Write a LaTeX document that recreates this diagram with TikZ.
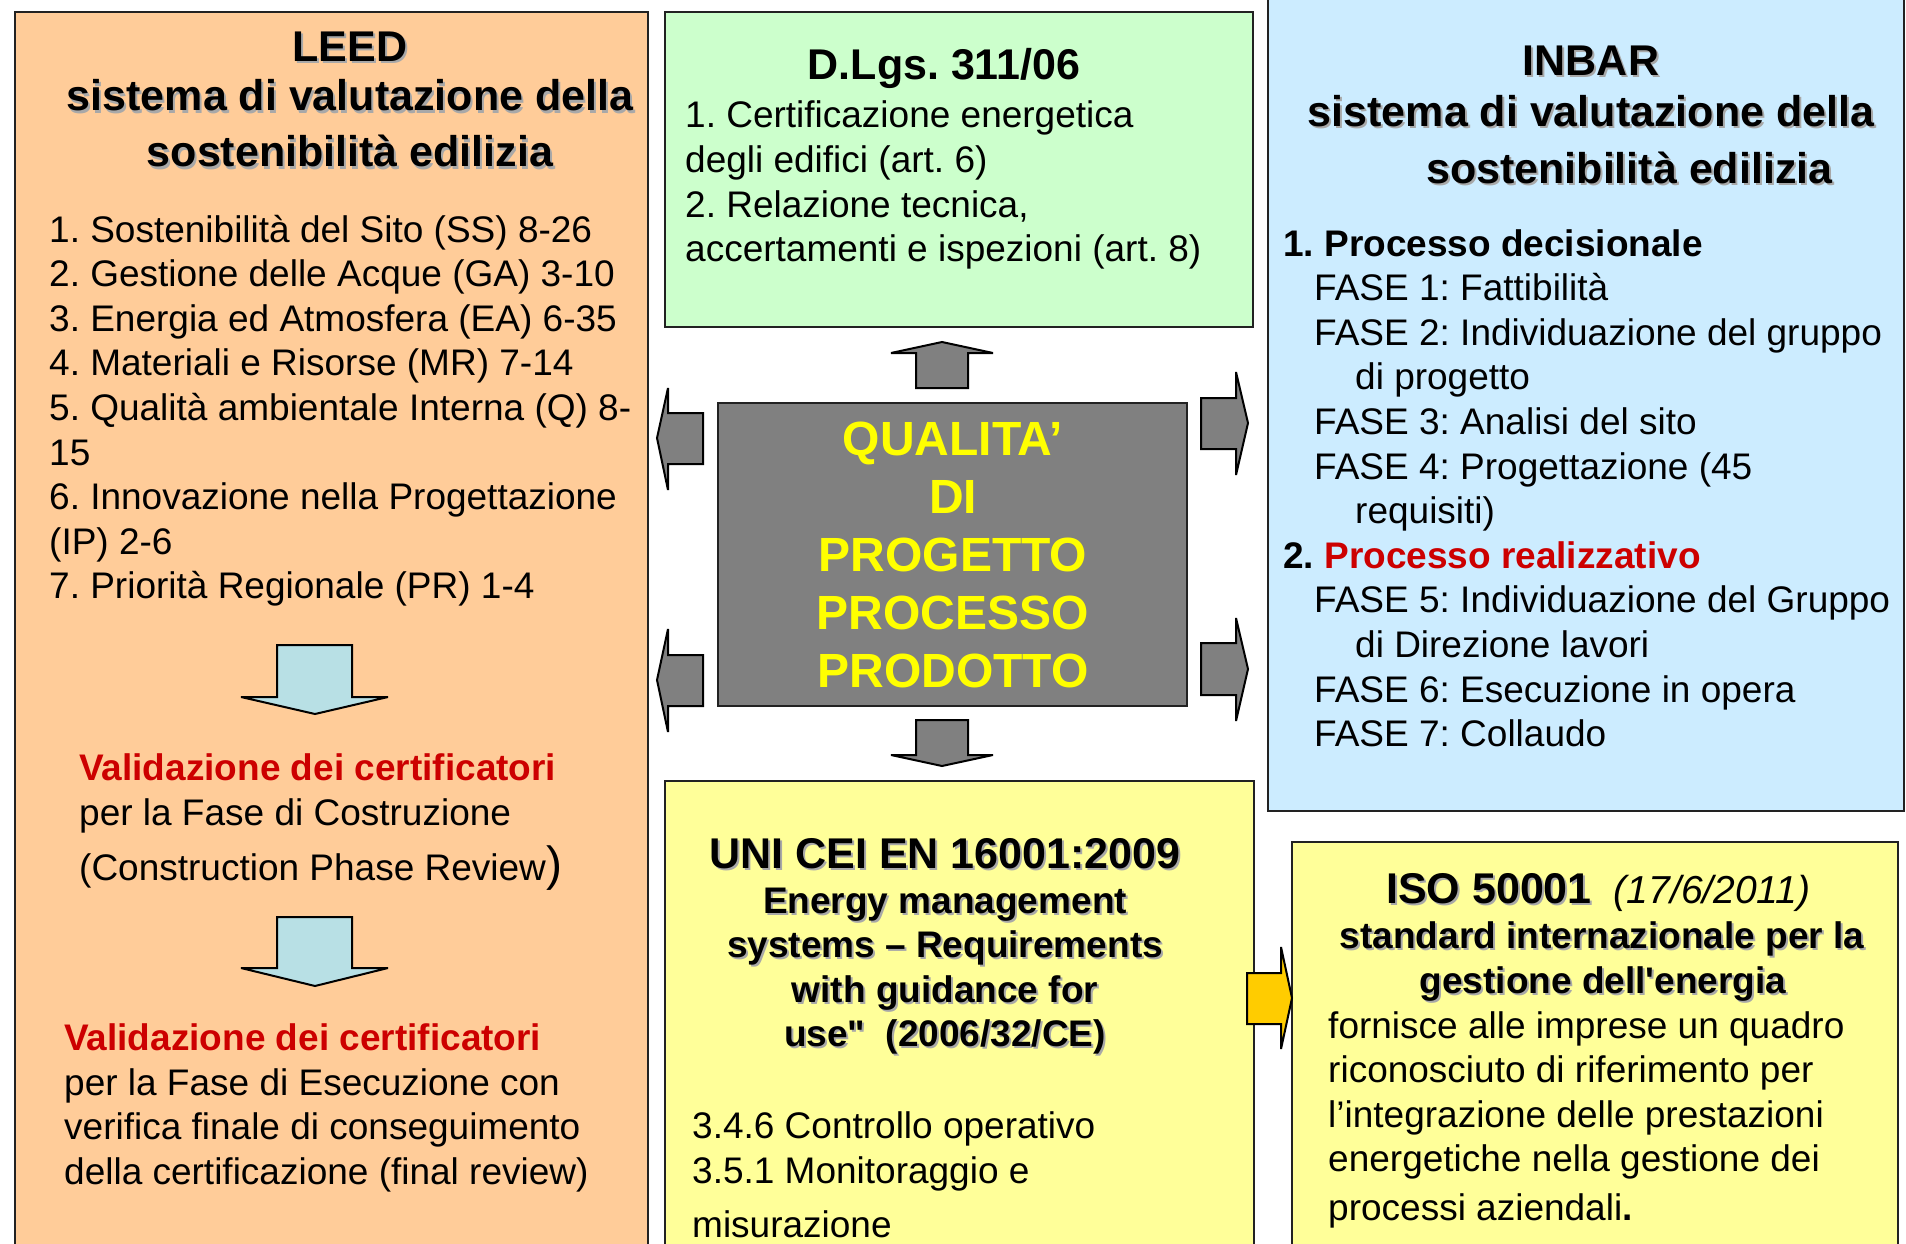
\documentclass[tikz,border=0pt]{standalone}
\usepackage{fontspec}
\setmainfont{Liberation Sans}[Ligatures=TeXOff]
\definecolor{peach}{HTML}{FFCC99}
\definecolor{mint}{HTML}{CCFFCC}
\definecolor{sky}{HTML}{CCECFF}
\definecolor{lemon}{HTML}{FFFF99}
\definecolor{greyc}{HTML}{808080}
\definecolor{qualc}{HTML}{FFFF00}
\definecolor{redc}{HTML}{CC0000}
\definecolor{arrowblue}{HTML}{B8E0E5}
\definecolor{orangec}{HTML}{FFCC00}
\definecolor{boxline}{HTML}{222222}
\definecolor{shadowc}{HTML}{A8A8A8}
\newcommand\shd[1]{\leavevmode\rlap{\kern2pt\raisebox{-2pt}{\textcolor{shadowc}{#1}}}#1}
\frenchspacing
\begin{document}
\frenchspacing
\begin{tikzpicture}[x=1pt,y=-1pt,
 box/.style={draw=boxline,line width=2.4pt},
 blk/.style={draw=black,line width=2pt,line join=miter,miter limit=2},
 body/.style={inner sep=0pt,anchor=base west,font=\fontsize{37}{44.6}\selectfont},
 hd/.style={inner sep=0pt,anchor=base,font=\fontsize{43}{50}\selectfont\bfseries},
 sb/.style={inner sep=0pt,anchor=base,font=\fontsize{37}{44.6}\selectfont\bfseries},
]
\useasboundingbox (0,0) rectangle (1906,1244);
\clip (0,0) rectangle (1906,1244);

% boxes
\draw[box,fill=peach] (15,12) rectangle (648,1262);
\draw[box,fill=mint] (665,12) rectangle (1253,327);
\draw[box,fill=sky] (1268,-10) rectangle (1904,811);
\draw[box,fill=lemon] (665,781) rectangle (1254,1262);
\draw[box,fill=lemon] (1292,842) rectangle (1898,1262);
\draw[box,fill=greyc] (718,403) rectangle (1187,706);

% grey block arrows
\draw[blk,fill=greyc] (916,388) -- (916,353) -- (891,353) -- (942,342) -- (993,353) -- (968,353) -- (968,388) -- cycle;
\draw[blk,fill=greyc] (916,720) -- (968,720) -- (968,755) -- (993,755) -- (942,766) -- (891,755) -- (916,755) -- cycle;
\draw[blk,fill=greyc] (703,413) -- (668,413) -- (668,388) -- (657,438) -- (668,490) -- (668,464) -- (703,464) -- cycle;
\draw[blk,fill=greyc] (703,655) -- (668,655) -- (668,629) -- (657,680) -- (668,732) -- (668,706) -- (703,706) -- cycle;
\draw[blk,fill=greyc] (1201,398) -- (1236,398) -- (1236,372) -- (1248,423) -- (1236,475) -- (1236,449) -- (1201,449) -- cycle;
\draw[blk,fill=greyc] (1201,643) -- (1236,643) -- (1236,618) -- (1248,669) -- (1236,721) -- (1236,695) -- (1201,695) -- cycle;
% orange arrow
\draw[blk,fill=orangec] (1247,973) -- (1281,973) -- (1281,947) -- (1292,998) -- (1281,1049) -- (1281,1024) -- (1247,1024) -- cycle;
% light blue arrows
\draw[blk,fill=arrowblue] (277,645) -- (352,645) -- (352,697) -- (388,697) -- (315,714) -- (241,697) -- (277,697) -- cycle;
\draw[blk,fill=arrowblue] (277,917) -- (352,917) -- (352,968) -- (388,968) -- (315,986) -- (241,968) -- (277,968) -- cycle;

% LEED
\node[hd] (leed1) at (350,62) {\shd{LEED}};
\node[hd] (leed2) at (350,111) {\shd{sistema di valutazione della}};
\node[hd] (leed3) at (350,167) {\shd{sostenibilità edilizia}};
\node[body] (leedlist) at (49,242) {\begin{tabular}[t]{@{}l@{}}
1. Sostenibilità del Sito (SS) 8-26\\
2. Gestione delle Acque (GA) 3-10\\
3. Energia ed Atmosfera (EA) 6-35\\
4. Materiali e Risorse (MR) 7-14\\
5. Qualità ambientale Interna (Q) 8-\\
15\\
6. Innovazione nella Progettazione\\
(IP) 2-6\\
7. Priorità Regionale (PR) 1-4
\end{tabular}};
\node[body,text=redc,font=\fontsize{37}{44.6}\selectfont\bfseries] (val1) at (79,780) {Validazione dei certificatori};
\node[body] (val1b) at (79,825) {per la Fase di Costruzione};
\node[body] (val1c) at (79,880) {(Construction Phase Review{\fontsize{48}{48}\selectfont)}};
\node[body,text=redc,font=\fontsize{37}{44.6}\selectfont\bfseries] (val2) at (64,1050) {Validazione dei certificatori};
\node[body] (val2b) at (64,1095) {\begin{tabular}[t]{@{}l@{}}
per la Fase di Esecuzione con\\
verifica finale di conseguimento\\
della certificazione (final review)
\end{tabular}};

% D.Lgs
\node[hd] (dlgs) at (944,80) {D.Lgs. 311/06};
\node[body] (dlgslist) at (685,128) {\begin{tabular}[t]{@{}l@{}}
1. Certificazione energetica\\
degli edifici (art. 6)\\
2. Relazione tecnica,\\
accertamenti e ispezioni (art. 8)
\end{tabular}};

% INBAR
\node[hd] (inbar1) at (1591,76) {\shd{INBAR}};
\node[hd] (inbar2) at (1591,127) {\shd{sistema di valutazione della}};
\node[hd,anchor=base west] (inbar3) at (1426,183) {\shd{sostenibilità edilizia}};
\node[body] (inbarlist) at (1283,256) {\begin{tabular}[t]{@{}l@{}}
\textbf{1. Processo decisionale}\\
\hspace*{31pt}FASE 1: Fattibilità\\
\hspace*{31pt}FASE 2: Individuazione del gruppo\\
\hspace*{72pt}di progetto\\
\hspace*{31pt}FASE 3: Analisi del sito\\
\hspace*{31pt}FASE 4: Progettazione (45\\
\hspace*{72pt}requisiti)\\
\textbf{2. \textcolor{redc}{Processo realizzativo}}\\
\hspace*{31pt}FASE 5: Individuazione del Gruppo\\
\hspace*{72pt}di Direzione lavori\\
\hspace*{31pt}FASE 6: Esecuzione in opera\\
\hspace*{31pt}FASE 7: Collaudo
\end{tabular}};

% centre
\node[inner sep=0pt,anchor=base,text=qualc,font=\fontsize{48}{58}\selectfont\bfseries] (qual) at (953,455) {\begin{tabular}[t]{@{}c@{}}
QUALITA’\\ DI\\ PROGETTO\\ PROCESSO\\ PRODOTTO
\end{tabular}};

% UNI
\node[hd] (uni1) at (945,868) {\shd{UNI CEI EN 16001:2009}};
\node[sb] (uni2) at (945,913) {\begin{tabular}[t]{@{}c@{}}
\shd{Energy management}\\
\shd{systems – Requirements}\\
\shd{with guidance for}\\
\shd{use"\ \ (2006/32/CE)}
\end{tabular}};
\node[body] (uni3) at (692,1138) {3.4.6 Controllo operativo};
\node[body] (uni4) at (692,1183) {3.5.1 Monitoraggio e};
\node[body] (uni5) at (692,1237) {misurazione};

% ISO
\node[inner sep=0pt,anchor=base west,font=\fontsize{43}{50}\selectfont] (iso1) at (1386,903) {\shd{\textbf{ISO 50001}}\hspace{22pt}{\fontsize{39}{50}\selectfont\itshape (17/6/2011)}};
\node[sb] (iso2) at (1602,948) {\shd{standard internazionale per la}};
\node[sb] (iso3) at (1603,993) {\shd{gestione dell'energia}};
\node[body] (iso4) at (1328,1038) {\begin{tabular}[t]{@{}l@{}}
fornisce alle imprese un quadro\\
riconosciuto di riferimento per\\
l’integrazione delle prestazioni\\
energetiche nella gestione dei
\end{tabular}};
\node[body] (iso5) at (1328,1220) {processi aziendali\textbf{.}};
\end{tikzpicture}
\end{document}
